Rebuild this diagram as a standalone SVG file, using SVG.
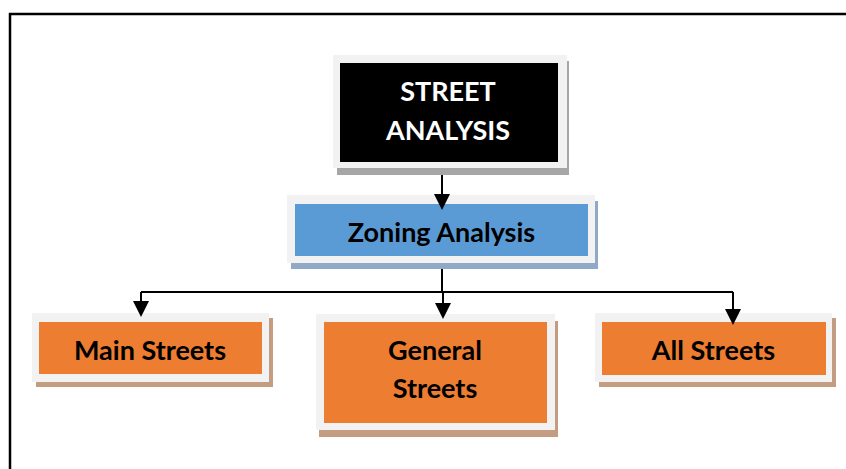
<svg xmlns="http://www.w3.org/2000/svg" width="846" height="469" viewBox="0 0 846 469">
  <defs>
    <marker id="arrow" markerUnits="userSpaceOnUse" markerWidth="16" markerHeight="16" viewBox="0 0 16 16" refX="8" refY="8" orient="auto">
      <path d="M0,0 L16,8 L0,16 Z" fill="#000"/>
    </marker>
    <style>
      .frame { fill: none; stroke: #000; stroke-width: 2.5; }
      .outer { fill: #f2f2f2; }
      .label { font-family: Lato, "Open Sans", sans-serif; font-weight: bold; font-size: 27px; text-anchor: middle; fill: #000; }
      .white { fill: #fff; }
      .conn { fill: none; stroke: #000; stroke-width: 2; }
      .orange { fill: #ed7d31; }
      .oshadow { fill: #c49c82; }
    </style>
  </defs>
  <rect width="846" height="469" fill="#fff"/>
  <path class="frame" d="M10,469 V14 H846"/>

  <g id="street-analysis">
    <rect x="337" y="61" width="232" height="114" fill="#a6a6a6"/>
    <rect class="outer" x="333" y="55" width="234" height="113"/>
    <rect x="340" y="63" width="218" height="99" fill="#000"/>
    <text class="label white" x="448" y="101">STREET</text>
    <text class="label white" x="448" y="140">ANALYSIS</text>
  </g>

  <g id="zoning-analysis">
    <rect x="291" y="201" width="307" height="68" fill="#8fa9c6"/>
    <rect class="outer" x="287" y="195" width="308" height="68"/>
    <rect x="295" y="204" width="293" height="52" fill="#5b9bd5"/>
    <text class="label" x="441.5" y="242">Zoning Analysis</text>
  </g>

  <g id="main-streets">
    <rect class="oshadow" x="36" y="318" width="237" height="69"/>
    <rect class="outer" x="32" y="313" width="237" height="69"/>
    <rect class="orange" x="39" y="322" width="223" height="52"/>
    <text class="label" x="150" y="360">Main Streets</text>
  </g>

  <g id="general-streets">
    <rect class="oshadow" x="319" y="321" width="239" height="116"/>
    <rect class="outer" x="316" y="314" width="239" height="116"/>
    <rect class="orange" x="324" y="322" width="223" height="101"/>
    <text class="label" x="435" y="360">General</text>
    <text class="label" x="435" y="398">Streets</text>
  </g>

  <g id="all-streets">
    <rect class="oshadow" x="599" y="318" width="237" height="69"/>
    <rect class="outer" x="595" y="313" width="237" height="69"/>
    <rect class="orange" x="602" y="322" width="224" height="53"/>
    <text class="label" x="713.5" y="360">All Streets</text>
  </g>

  <g id="connectors">
    <path class="conn" d="M442,175 V202" marker-end="url(#arrow)"/>
    <path class="conn" d="M442,269 V292"/>
    <path class="conn" d="M141,292 H733"/>
    <path class="conn" d="M141,292 V309" marker-end="url(#arrow)"/>
    <path class="conn" d="M443,292 V311" marker-end="url(#arrow)"/>
    <path class="conn" d="M733,292 V317" marker-end="url(#arrow)"/>
  </g>
</svg>
